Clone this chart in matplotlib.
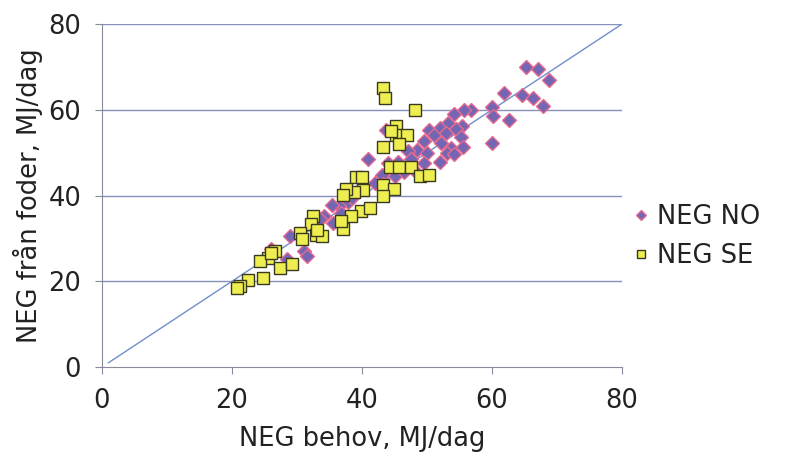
import numpy as np
import matplotlib.pyplot as plt

# NEG NO (diamonds)
no_x = [65.3, 67.0, 68.8, 61.8, 64.6, 66.3, 67.9, 60.0, 60.1, 62.6, 60.0, 56.8,
        55.7, 54.1, 53.2, 55.4, 52.0, 50.3, 52.9, 51.1, 54.5, 55.3, 49.6, 52.1,
        53.7, 55.6, 48.5, 50.0, 47.0, 53.0, 54.2, 52.0, 49.6, 43.7, 40.9, 44.0,
        45.6, 43.0, 45.1, 46.4, 43.2, 37.8, 36.5, 35.4, 36.8, 34.2, 35.6, 28.9,
        31.1, 31.6, 28.4, 47.5, 48.0, 38.5, 42.0, 33.5, 26.0]
no_y = [70.0, 69.4, 67.0, 64.0, 63.5, 62.8, 60.8, 60.6, 58.6, 57.7, 52.3, 60.0,
        60.0, 59.1, 57.0, 56.1, 55.8, 55.3, 54.5, 54.0, 55.5, 53.6, 52.6, 52.3,
        51.0, 51.4, 50.6, 49.8, 50.3, 50.0, 49.7, 47.8, 47.6, 55.2, 48.5, 47.5,
        47.7, 44.8, 44.6, 45.4, 42.6, 38.4, 37.6, 37.7, 36.0, 35.2, 33.7, 30.5,
        27.0, 26.0, 25.2, 48.5, 46.0, 39.5, 43.0, 34.5, 27.5]

# NEG SE (squares)
se_x = [43.2, 43.6, 48.1, 45.2, 45.2, 46.9, 45.7, 43.2, 44.3, 45.7, 47.6, 48.9,
        50.3, 39.0, 40.0, 43.3, 44.9, 43.3, 40.1, 38.7, 37.6, 37.0, 39.8, 41.3,
        38.3, 37.0, 32.4, 32.1, 30.5, 30.8, 32.9, 33.9, 26.6, 25.6, 24.3, 27.4,
        29.2, 24.8, 22.5, 21.2, 20.7, 36.8, 33.0, 26.0, 44.5]
se_y = [65.0, 62.7, 60.0, 56.2, 54.0, 54.0, 52.0, 51.4, 46.6, 46.6, 46.6, 44.5,
        44.8, 44.4, 44.3, 42.4, 41.5, 40.0, 41.2, 40.8, 41.5, 40.2, 36.5, 37.1,
        35.2, 32.1, 35.3, 33.3, 31.3, 29.8, 30.9, 30.5, 27.0, 25.5, 24.8, 23.1,
        24.1, 20.8, 20.4, 18.8, 18.4, 34.0, 32.0, 26.5, 55.0]

ticks = [0, 20, 40, 60, 80]

fig = plt.figure(figsize=(7.93, 4.53), dpi=100)
ax = fig.add_axes([0.1286, 0.1898, 0.6558, 0.7572])

for t in ticks[1:]:
    ax.axhline(t, color='#8690bc', lw=1.0, zorder=1)
ax.plot([1, 80], [1, 80], color='#6f8fcc', lw=1.0, zorder=2)

ax.plot(no_x, no_y, 'D', ms=7, mfc='#7466b2', mec='#e86a90', mew=1.0,
        ls='none', zorder=3, label='NEG NO')
ax.plot(se_x, se_y, 's', ms=8.5, mfc='#eeee50', mec='#3a3a20', mew=1.0,
        ls='none', zorder=4, label='NEG SE')

ax.set_xlim(0, 80)
ax.set_ylim(0, 80)
ax.set_xticks(ticks)
ax.set_yticks(ticks)
ax.tick_params(labelsize=18.5, color='#8a8a9a', length=5, pad=10,
               labelcolor='#222222')
for s in ['top', 'right']:
    ax.spines[s].set_visible(False)
for s in ['left', 'bottom']:
    ax.spines[s].set_color('#8a8a9a')
ax.set_xlabel('NEG behov, MJ/dag', fontsize=18.5, color='#222222', labelpad=9)
ax.set_ylabel('NEG från foder, MJ/dag', fontsize=18.5, color='#222222', labelpad=4)

leg = ax.legend(loc='center left', bbox_to_anchor=(1.0, 0.38), frameon=False,
                fontsize=18.5, handlelength=0.5, handletextpad=0.35,
                labelspacing=0.5, markerscale=0.7, borderaxespad=0.1)
for txt in leg.get_texts():
    txt.set_color('#222222')

fig.savefig('out.png', dpi=100)
